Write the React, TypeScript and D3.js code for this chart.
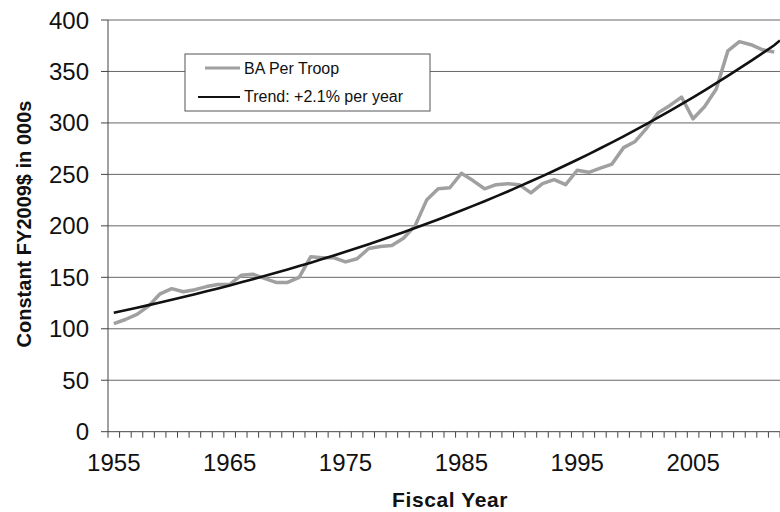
import React from "react";
import * as d3 from "d3";

// fiscal years and budget authority per troop, constant FY2009$ (000s)
const years = d3.range(1955, 2013);
const baPerTroop = [
  105, 109, 114, 122, 134, 139, 136, 138, 141, 143,
  143, 152, 153, 149, 145, 145, 150, 170, 169, 169,
  165, 168, 178, 180, 181, 188, 200, 225, 236, 237,
  251, 244, 236, 240, 241, 240, 232, 241, 245, 240,
  254, 252, 256, 260, 276, 282, 295, 310, 317, 325,
  304, 316, 333, 370, 379, 376, 371, 369,
];
const yTicks = [0, 50, 100, 150, 200, 250, 300, 350, 400];
const xLabels = [1955, 1965, 1975, 1985, 1995, 2005];
const legendItems = ["BA Per Troop", "Trend: +2.1% per year"];

const W = 780;
const H = 512;
const left = 108;
const right = 780;
const top = 20;
const bottom = 431.7;
const font = "'Liberation Sans', Arial, sans-serif";

// exponential least-squares trend (what the spreadsheet's trendline does)
function expFit(xs: number[], ys: number[]) {
  const lx = xs.map((x) => x - xs[0]);
  const ly = ys.map((y) => Math.log(y));
  const mx = d3.mean(lx) as number;
  const my = d3.mean(ly) as number;
  const b =
    d3.sum(lx, (x, i) => (x - mx) * (ly[i] - my)) /
    d3.sum(lx, (x) => (x - mx) * (x - mx));
  const a = my - b * mx;
  return (x: number) => Math.exp(a + b * (x - xs[0]));
}

export default function App() {
  const x = d3.scaleBand<number>().domain(years).range([left, right]).padding(0);
  const cx = (yr: number) => (x(yr) as number) + x.bandwidth() / 2;
  const y = d3.scaleLinear().domain([0, 400]).range([bottom, top]);

  const trend = expFit(years, baPerTroop);
  const trendYears = [...years, 2012.6];

  const line = d3
    .line<number>()
    .x((_, i) => cx(years[i]))
    .y((d) => y(d));
  const trendLine = d3
    .line<number>()
    .x((yr) => (yr === 2012.6 ? right : cx(yr)))
    .y((yr) => y(trend(yr)));

  const boundaries = [...years, 2013];

  return (
    <svg
      width={W}
      height={H}
      style={{ position: "absolute", left: 0, top: 0, background: "#fff" }}
      fontFamily={font}
    >
      <defs>
        <clipPath id="plot">
          <rect x={left} y={0} width={right - left} height={bottom} />
        </clipPath>
      </defs>

      {/* grid */}
      {yTicks.slice(1).map((t) => (
        <line key={t} x1={left} x2={right} y1={y(t)} y2={y(t)} stroke="#666" strokeWidth={1} />
      ))}

      {/* axes */}
      <line x1={left} x2={left} y1={top} y2={bottom} stroke="#444" strokeWidth={1} />
      <line x1={left} x2={right} y1={bottom} y2={bottom} stroke="#444" strokeWidth={1} />
      {yTicks.map((t) => (
        <g key={t}>
          <line x1={left - 7} x2={left} y1={y(t)} y2={y(t)} stroke="#444" />
          <text x={89} y={y(t) + 8.5} textAnchor="end" fontSize={24} fill="#111">
            {t}
          </text>
        </g>
      ))}
      {boundaries.map((yr, i) => (
        <line
          key={yr}
          x1={left + i * x.bandwidth()}
          x2={left + i * x.bandwidth()}
          y1={bottom}
          y2={bottom + 6}
          stroke="#444"
        />
      ))}
      {xLabels.map((yr) => (
        <text key={yr} x={cx(yr)} y={471} textAnchor="middle" fontSize={24} fill="#111">
          {yr}
        </text>
      ))}

      {/* series */}
      <g clipPath="url(#plot)">
        <path d={line(baPerTroop) as string} fill="none" stroke="#a0a0a0" strokeWidth={3.5} strokeLinejoin="round" />
        <path d={trendLine(trendYears) as string} fill="none" stroke="#111" strokeWidth={2.6} />
      </g>

      {/* legend */}
      <rect x={185} y={54} width={245} height={57} fill="#fff" stroke="#555" strokeWidth={1} />
      <line x1={205} x2={240} y1={68} y2={68} stroke="#a0a0a0" strokeWidth={3} />
      <text x={244} y={74} fontSize={16} fill="#111">
        {legendItems[0]}
      </text>
      <line x1={198} x2={240} y1={97} y2={97} stroke="#111" strokeWidth={2} />
      <text x={244} y={102} fontSize={16} fill="#111">
        {legendItems[1]}
      </text>

      {/* titles */}
      <text
        transform="translate(31,224) rotate(-90)"
        textAnchor="middle"
        fontSize={20}
        fontWeight="bold"
        fill="#111"
      >
        Constant FY2009$ in 000s
      </text>
      <text x={450} y={507} textAnchor="middle" fontSize={21} fontWeight="bold" fill="#111" letterSpacing={0.6}>
        Fiscal Year
      </text>
    </svg>
  );
}
